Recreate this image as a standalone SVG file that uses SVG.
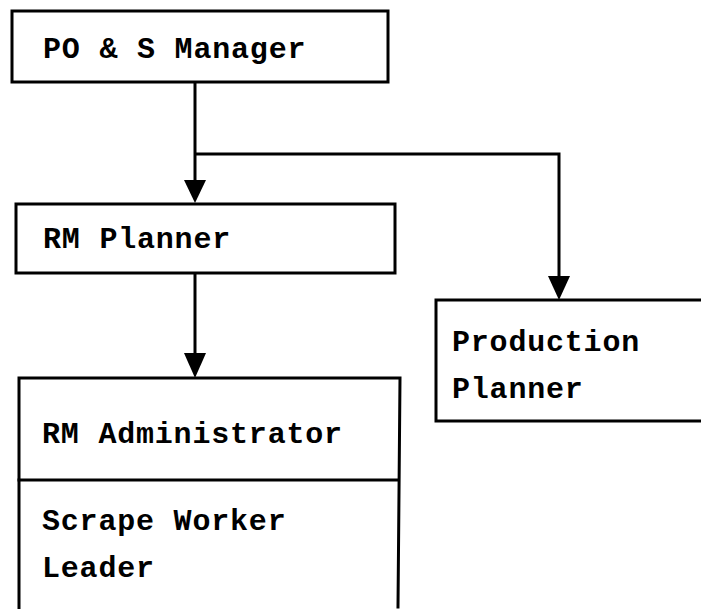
<svg xmlns="http://www.w3.org/2000/svg" width="701" height="609" viewBox="0 0 701 609">
<style>
.box{fill:none;stroke:#000;stroke-width:3;stroke-linecap:square}
.ln{fill:none;stroke:#000;stroke-width:3}
.ah{fill:#000}
text{font-family:"Liberation Mono","Courier New",monospace;font-weight:bold;font-size:30px;letter-spacing:0.8px;fill:#000}
</style>
<rect width="701" height="609" fill="#fff"/>
<g id="connectors">
<path class="ln" d="M195,82 L195,180"/>
<path class="ah" d="M184,180 L206,180 L195,203 Z"/>
<path class="ln" d="M195,154 L559,154 L559,276"/>
<path class="ah" d="M548,276 L570,276 L559,300 Z"/>
<path class="ln" d="M195,273 L195,353"/>
<path class="ah" d="M184,353 L206,353 L195,378 Z"/>
</g>
<g id="po-s-manager">
<rect class="box" x="12" y="11" width="376" height="71"/>
<text x="43" y="58">PO &amp; S Manager</text>
</g>
<g id="rm-planner">
<rect class="box" x="16" y="204" width="379" height="69"/>
<text x="43" y="248">RM Planner</text>
</g>
<g id="production-planner">
<path class="box" d="M703,300 L436,300 L436,421 L703,421"/>
<text x="452" y="351">Production</text>
<text x="452" y="398">Planner</text>
</g>
<g id="rm-administrator">
<path class="box" d="M19,609 L19,378 L400,378 L398,607"/>
<path class="box" d="M19,480 L398,480"/>
<text x="42" y="443">RM Administrator</text>
<text x="42" y="530">Scrape Worker</text>
<text x="42" y="577">Leader</text>
</g>
</svg>
